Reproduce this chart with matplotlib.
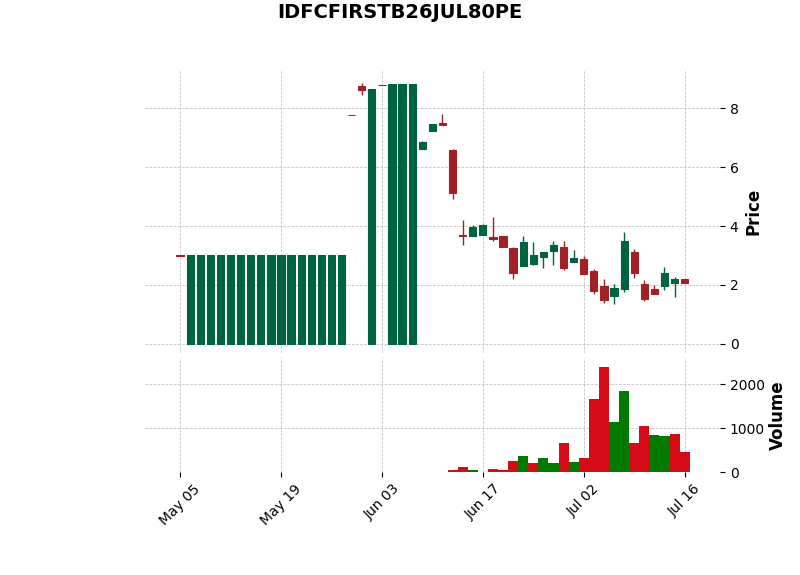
import matplotlib
matplotlib.use('Agg')
import matplotlib.pyplot as plt

title = 'IDFCFIRSTB26JUL80PE'

# daily OHLC (index = trading session)
opens = [3.00] + [0.0] * 16 + [7.79, 8.75, 0.0, 8.81, 0.0, 0.0, 0.0,
         6.61, 7.24, 7.49, 6.60, 3.68, 3.66, 3.71, 3.64, 3.65, 3.24, 2.65,
         2.72, 2.96, 3.16, 3.30, 2.79, 2.89, 2.46, 1.97, 1.63, 1.87, 3.10,
         2.04, 1.87, 1.97, 2.07, 2.21]
highs = [3.00] + [3.0] * 16 + [7.79, 8.88, 8.65, 8.81, 8.82, 8.82, 8.82,
         6.90, 7.46, 7.81, 6.62, 4.21, 4.04, 4.07, 4.31, 3.65, 3.30, 3.66,
         3.45, 3.11, 3.49, 3.49, 3.19, 2.98, 2.54, 2.20, 2.03, 3.80, 3.22,
         2.17, 2.00, 2.61, 2.27, 2.21]
lows = [2.99] + [0.0] * 16 + [7.77, 8.44, 0.0, 8.79, 0.0, 0.0, 0.0,
        6.61, 7.24, 7.42, 4.92, 3.36, 3.66, 3.71, 3.50, 3.28, 2.19, 2.65,
        2.69, 2.57, 2.69, 2.51, 2.79, 2.38, 1.69, 1.37, 1.34, 1.76, 2.23,
        1.44, 1.70, 1.83, 1.59, 2.07]
closes = [2.99] + [3.0] * 16 + [7.77, 8.62, 8.65, 8.79, 8.82, 8.82, 8.82,
          6.84, 7.46, 7.42, 5.11, 3.67, 3.97, 4.02, 3.57, 3.30, 2.41, 3.44,
          3.03, 3.11, 3.37, 2.57, 2.90, 2.38, 1.80, 1.50, 1.90, 3.50, 2.39,
          1.53, 1.70, 2.41, 2.21, 2.07]
volumes = [0] * 27 + [52, 120, 40, 0, 75, 50, 257, 370, 211, 325, 211, 666,
           234, 325, 1666, 2393, 1143, 1848, 666, 1052, 848, 825, 870, 461]

tick_labels = ['May 05', 'May 19', 'Jun 03', 'Jun 17', 'Jul 02', 'Jul 16']

up, down = '#006340', '#A02128'
vol_up, vol_down = '#007a00', '#d50b18'

x = list(range(len(closes)))
candle_colors = [up if c >= o else down for o, c in zip(opens, closes)]
vol_colors = [vol_up if i > 0 and closes[i] > closes[i - 1] else vol_down for i in x]

fig = plt.figure(figsize=(8, 5.75), dpi=100)
ax = fig.add_axes([0.181, 0.386, 0.719, 0.492])
axv = fig.add_axes([0.181, 0.179, 0.719, 0.198], sharex=ax)

for a in (ax, axv):
    for s in a.spines.values():
        s.set_visible(False)
    a.grid(True, linestyle='--', color='#c0c0c0', linewidth=0.55)
    a.set_axisbelow(True)
    a.yaxis.tick_right()
    a.yaxis.set_label_position('right')
    a.tick_params(labelsize=10)

# candles
ax.vlines(x, lows, highs, colors=candle_colors, linewidth=1.0)
ax.bar(x, [c - o for o, c in zip(opens, closes)], bottom=opens, width=0.72,
       color=candle_colors, edgecolor=candle_colors, linewidth=0.8)
ax.set_ylim(-0.32, 9.30)
ax.set_yticks([0, 2, 4, 6, 8])
ax.set_ylabel('Price', fontsize=12, fontweight='bold', labelpad=4)
ax.tick_params(axis='x', bottom=False, labelbottom=False)

# volume
axv.bar(x, volumes, width=1.0, color=vol_colors, linewidth=0)
axv.set_ylim(0, 2600)
axv.set_yticks([0, 1000, 2000])
axv.set_ylabel('Volume', fontsize=12, fontweight='bold', labelpad=3)

axv.set_xlim(-3.5, 53.5)
axv.set_xticks(range(0, len(x), 10))
axv.set_xticklabels(tick_labels, rotation=45, ha='center')

fig.suptitle(title, fontsize=14, fontweight='bold', y=0.995)

fig.savefig('out.png', dpi=100)
